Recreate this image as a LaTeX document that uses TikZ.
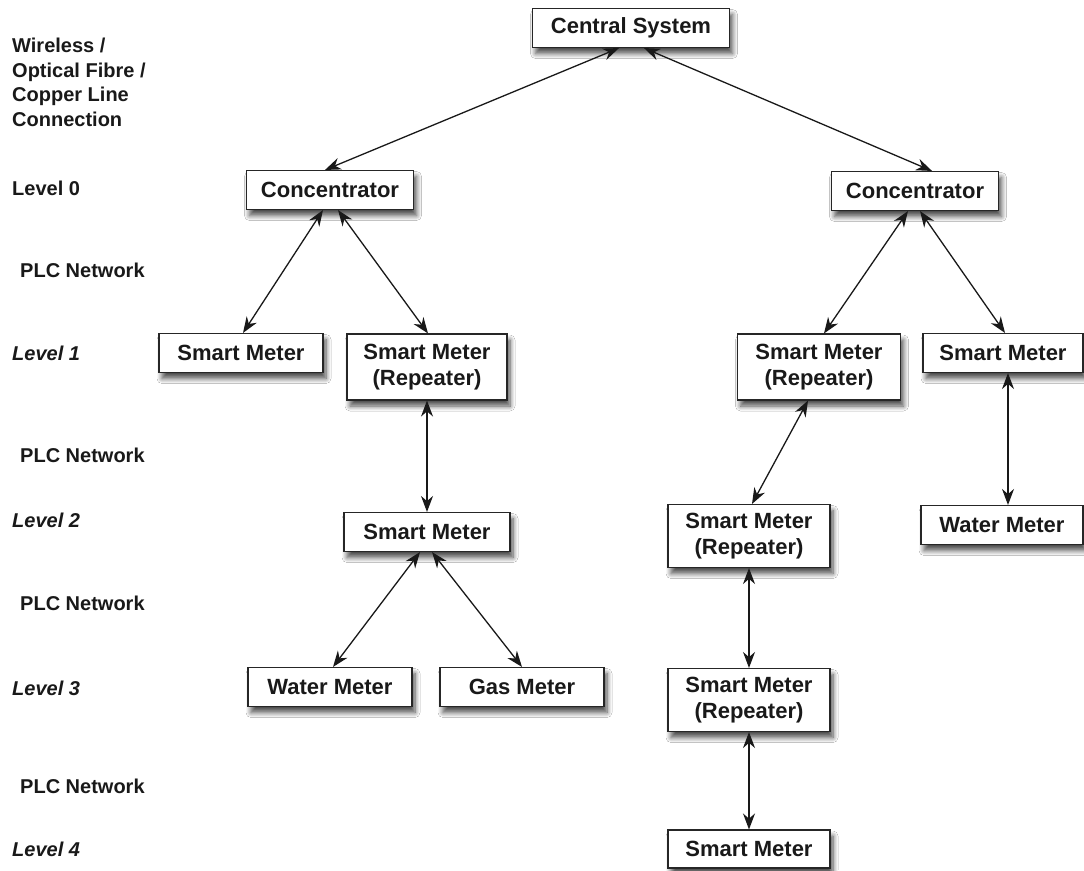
\documentclass[tikz,border=0pt]{standalone}
\usepackage{fontspec}
\setmainfont{Liberation Sans}
\usetikzlibrary{arrows.meta,shadows.blur}
\tikzset{
  meter/.style={draw=black!85, line width=1.1pt, fill=white, align=center,
    font=\fontsize{22}{26.5}\selectfont\bfseries, text=black!90,
    minimum width=164pt, minimum height=39pt, inner sep=2pt,
    blur shadow={shadow xshift=3pt, shadow yshift=-6pt, shadow blur steps=8, shadow blur radius=5pt, shadow opacity=70}},
  twoline/.style={meter, minimum height=66pt},
  link/.style={line width=1.3pt, black!90, {Stealth[length=16pt,width=12pt]}-{Stealth[length=16pt,width=12pt]}},
  tier/.style={anchor=west, align=left, font=\fontsize{20}{24.5}\selectfont\bfseries, text=black!90, inner sep=0pt},
  tierit/.style={tier, font=\fontsize{20}{24.5}\selectfont\bfseries\itshape}
}
\begin{document}
\begin{tikzpicture}[x=1pt,y=-1pt]
\useasboundingbox[fill=white] (0,0) rectangle (1084,870);

% hierarchy of devices
\node[meter,minimum width=197pt] (cs) at (631,28) {Central System};
\node[meter,minimum width=167pt] (cl) at (330,190) {Concentrator};
\node[meter,minimum width=167pt] (cr) at (915,191) {Concentrator};

\node[meter]   (sm1a) at (241,353) {Smart Meter};
\node[twoline,minimum width=160pt] (rp1a) at (427,367) {Smart Meter\\(Repeater)};
\node[twoline,minimum width=163pt] (rp1b) at (819,367) {Smart Meter\\(Repeater)};
\node[meter,minimum width=160pt]   (sm1b) at (1003,353) {Smart Meter};

\node[meter,minimum width=166pt]   (sm2a) at (427,532) {Smart Meter};
\node[twoline,minimum width=162pt,minimum height=63pt] (rp2b) at (749,536) {Smart Meter\\(Repeater)};
\node[meter,minimum width=162pt]   (wm2b) at (1002,525) {Water Meter};

\node[meter]   (wm3a) at (330,687) {Water Meter};
\node[meter]   (gm3a) at (522,687) {Gas Meter};
\node[twoline,minimum width=162pt,minimum height=63pt] (rp3b) at (749,700) {Smart Meter\\(Repeater)};

\node[meter,minimum width=162pt,minimum height=38pt] (sm4b) at (749,849) {Smart Meter};

% connections
\draw[link] ([xshift=-12pt]cs.south) -- ([xshift=-5pt]cl.north);
\draw[link] ([xshift=13pt]cs.south)  -- ([xshift=17pt]cr.north);

\draw[link] ([xshift=-7pt]cl.south) -- ([xshift=2pt]sm1a.north);
\draw[link] ([xshift=8pt]cl.south)  -- ([xshift=1pt]rp1a.north);
\draw[link] (rp1a.south) -- (sm2a.north);
\draw[link] ([xshift=-7pt]sm2a.south) -- ([xshift=3pt]wm3a.north);
\draw[link] ([xshift=5pt]sm2a.south)  -- (gm3a.north);

\draw[link] ([xshift=-7pt]cr.south) -- ([xshift=5pt]rp1b.north);
\draw[link] ([xshift=5pt]cr.south)  -- ([xshift=2pt]sm1b.north);
\draw[link] ([xshift=-11pt]rp1b.south) -- ([xshift=3pt]rp2b.north);
\draw[link] ([xshift=5pt]sm1b.south) -- ([xshift=6pt]wm2b.north);
\draw[link] (rp2b.south) -- (rp3b.north);
\draw[link] (rp3b.south) -- (sm4b.north);

% tier captions
\node[tier, anchor=north west] (medium) at (12,38) {Wireless /\\Optical Fibre /\\Copper Line\\Connection};
\node[tier]   (lv0)  at (12,188) {Level 0};
\node[tier]   (plc1) at (20,270) {PLC Network};
\node[tierit] (lv1)  at (12,353) {Level 1};
\node[tier]   (plc2) at (20,455) {PLC Network};
\node[tierit] (lv2)  at (12,520) {Level 2};
\node[tier]   (plc3) at (20,603) {PLC Network};
\node[tierit] (lv3)  at (12,688) {Level 3};
\node[tier]   (plc4) at (20,786) {PLC Network};
\node[tierit] (lv4)  at (12,849) {Level 4};
\end{tikzpicture}
\end{document}
